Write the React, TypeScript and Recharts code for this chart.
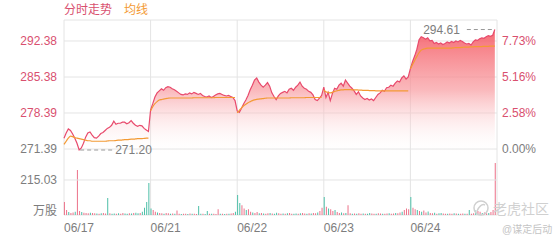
import { Area, Bar, CartesianGrid, Cell, ComposedChart, Line, ReferenceDot, ReferenceLine, XAxis, YAxis } from "recharts"

const days = ["06/17", "06/21", "06/22", "06/23", "06/24"]
const prevClose = 271.39
const priceTicks = [271.39, 278.39, 285.38, 292.38]
const pctLabels = ["0.00%", "2.58%", "5.16%", "7.73%"]
const volTick = 215.03

const price0617 = [273.5, 274.5, 275.3, 275.0, 274.3, 273.5, 272.5, 271.2, 271.6, 272.5, 273.7, 274.5, 274.7, 274.1, 273.6, 273.5, 273.9, 274.4, 274.6, 275.0, 275.4, 275.6, 276.0, 276.8, 276.2, 276.4, 276.4, 276.6, 276.6, 276.3, 276.5, 276.9, 276.4, 276.0, 275.8, 276.0, 275.9, 275.4, 275.1, 274.8]
const price0621 = [279.0, 280.2, 281.5, 282.3, 282.7, 283.1, 282.8, 283.3, 283.5, 283.4, 283.1, 282.9, 282.6, 282.3, 282.0, 281.9, 282.1, 282.0, 282.3, 282.1, 282.4, 282.2, 282.0, 282.2, 281.8, 281.6, 281.5, 281.7, 281.4, 281.6, 281.9, 282.1, 282.2, 282.0, 281.8, 281.7, 281.8, 281.6, 281.4, 280.8]
const price0622 = [278.8, 278.5, 279.3, 280.2, 280.9, 281.8, 282.9, 283.8, 284.8, 285.2, 284.4, 283.8, 283.4, 283.8, 284.3, 283.6, 282.3, 281.6, 281.0, 281.7, 282.2, 282.4, 282.6, 282.3, 283.0, 283.2, 282.8, 283.4, 283.8, 284.4, 283.6, 283.2, 283.0, 282.6, 282.4, 281.9, 281.0, 280.8, 281.3, 281.8]
const price0623 = [283.4, 281.4, 282.4, 280.8, 282.2, 283.2, 283.0, 283.8, 284.2, 283.6, 284.8, 284.2, 283.6, 283.2, 282.7, 282.0, 282.5, 281.7, 281.3, 281.0, 281.2, 280.9, 281.1, 280.8, 281.4, 282.0, 282.3, 282.8, 282.6, 283.3, 283.4, 283.8, 283.6, 284.2, 284.6, 284.4, 285.2, 285.6, 285.0, 285.4]
const price0624 = [287.0, 288.4, 289.5, 290.8, 292.6, 293.2, 293.0, 292.7, 293.0, 292.4, 292.5, 291.9, 292.1, 291.8, 292.0, 291.7, 291.9, 292.2, 292.0, 292.3, 292.1, 292.4, 292.2, 292.5, 292.3, 292.0, 291.8, 291.9, 291.6, 292.2, 292.6, 292.5, 292.8, 293.0, 292.9, 293.2, 293.4, 293.3, 293.5, 294.61]

const avg0617 = [272.3, 272.9, 273.5, 273.9, 273.8, 273.6, 273.5, 273.4, 273.3, 273.2, 273.1, 273.0, 273.0, 272.9, 272.9, 272.9, 272.9, 272.9, 272.9, 272.9, 272.95, 273.0, 273.0, 273.0, 273.05, 273.1, 273.1, 273.15, 273.2, 273.2, 273.25, 273.3, 273.3, 273.35, 273.4, 273.4, 273.4, 273.45, 273.5, 273.5]
const avg0621 = [278.8, 279.6, 280.2, 280.6, 280.9, 281.0, 281.1, 281.2, 281.25, 281.3, 281.3, 281.3, 281.3, 281.3, 281.3, 281.3, 281.3, 281.3, 281.3, 281.3, 281.35, 281.35, 281.35, 281.35, 281.35, 281.35, 281.35, 281.35, 281.35, 281.35, 281.4, 281.4, 281.4, 281.4, 281.4, 281.4, 281.4, 281.4, 281.4, 281.4]
const avg0622 = [278.4, 278.9, 279.4, 279.8, 280.1, 280.4, 280.6, 280.8, 280.95, 281.05, 281.1, 281.15, 281.2, 281.25, 281.3, 281.3, 281.3, 281.3, 281.3, 281.3, 281.3, 281.3, 281.3, 281.3, 281.3, 281.35, 281.35, 281.35, 281.35, 281.35, 281.35, 281.35, 281.4, 281.4, 281.4, 281.4, 281.4, 281.4, 281.4, 281.4]
const avg0623 = [282.9, 282.5, 282.4, 282.3, 282.4, 282.6, 282.7, 282.8, 282.9, 282.9, 282.95, 282.95, 282.95, 282.9, 282.9, 282.9, 282.85, 282.85, 282.8, 282.8, 282.8, 282.75, 282.75, 282.75, 282.7, 282.7, 282.7, 282.7, 282.7, 282.7, 282.7, 282.7, 282.7, 282.7, 282.7, 282.7, 282.7, 282.7, 282.7, 282.7]
const avg0624 = [287.0, 287.8, 288.6, 289.4, 290.1, 290.6, 290.8, 290.9, 291.0, 291.0, 291.0, 291.0, 291.0, 291.0, 291.0, 291.0, 291.0, 291.0, 291.0, 291.0, 291.05, 291.1, 291.1, 291.1, 291.15, 291.2, 291.2, 291.2, 291.25, 291.25, 291.3, 291.3, 291.3, 291.3, 291.35, 291.35, 291.35, 291.4, 291.4, 291.4]

const vol0617 = [80, 30, 18, 12, 15, 20, 276, 25, 18, 14, 12, 10, 14, 12, 10, 9, 8, 10, 12, 9, 104, 10, 8, 9, 7, 10, 8, 12, 9, 8, 10, 9, 12, 14, 10, 12, 20, 45, 80, 196]
const vol0621 = [40, 30, 20, 15, 12, 10, 8, 12, 10, 8, 9, 7, 28, 8, 6, 7, 8, 6, 9, 7, 8, 6, 55, 8, 7, 6, 25, 8, 7, 8, 6, 36, 7, 8, 6, 7, 8, 9, 12, 20]
const vol0622 = [123, 74, 60, 40, 30, 35, 20, 15, 12, 18, 10, 12, 9, 8, 10, 12, 9, 8, 14, 10, 8, 9, 7, 10, 12, 8, 7, 9, 8, 10, 12, 9, 8, 10, 9, 12, 10, 15, 25, 45]
const vol0623 = [110, 50, 40, 35, 25, 30, 18, 12, 15, 10, 12, 60, 10, 8, 9, 7, 10, 8, 9, 7, 8, 12, 9, 7, 8, 10, 9, 8, 7, 9, 10, 8, 9, 12, 10, 15, 20, 30, 40, 35]
const vol0624 = [110, 45, 35, 30, 25, 20, 28, 15, 22, 12, 10, 14, 8, 10, 12, 9, 8, 7, 9, 8, 10, 9, 7, 8, 9, 7, 8, 30, 7, 10, 28, 25, 20, 12, 15, 10, 12, 18, 30, 320]

// 1 = up bar (red), -1 = down bar (teal)
const dir0617 = [1, 1, -1, 1, 1, -1, 1, 1, -1, 1, 1, 1, -1, 1, 1, -1, 1, -1, 1, 1, -1, 1, -1, -1, 1, -1, 1, 1, -1, -1, 1, -1, 1, -1, -1, 1, -1, -1, -1, -1]
const dir0621 = [-1, 1, 1, -1, 1, 1, -1, 1, 1, -1, 1, -1, 1, 1, -1, 1, 1, -1, 1, -1, 1, 1, -1, -1, 1, -1, -1, 1, -1, 1, 1, 1, -1, 1, -1, 1, -1, 1, 1, -1]
const dir0622 = [-1, -1, 1, 1, -1, 1, 1, -1, 1, 1, -1, 1, -1, 1, 1, -1, 1, -1, -1, 1, 1, -1, 1, -1, 1, 1, -1, -1, 1, -1, 1, 1, -1, 1, -1, 1, 1, -1, 1, 1]
const dir0623 = [-1, 1, -1, 1, 1, -1, 1, 1, -1, 1, -1, 1, 1, -1, 1, -1, 1, 1, -1, 1, -1, -1, 1, 1, -1, 1, 1, -1, 1, 1, -1, 1, 1, -1, 1, 1, -1, 1, 1, 1]
const dir0624 = [-1, 1, 1, -1, 1, -1, 1, 1, -1, 1, 1, -1, 1, -1, -1, 1, 1, -1, 1, 1, -1, 1, -1, 1, 1, -1, 1, -1, 1, 1, -1, 1, 1, -1, 1, 1, -1, 1, 1, 1]

const priceByDay = [price0617, price0621, price0622, price0623, price0624]
const avgByDay = [avg0617, avg0621, avg0622, avg0623, avg0624]
const volByDay = [vol0617, vol0621, vol0622, vol0623, vol0624]
const dirByDay = [dir0617, dir0621, dir0622, dir0623, dir0624]

const RED = "#e84a6c"
const RED_TEXT = "#d9506f"
const ORANGE = "#f39a34"
const GRAY = "#7d7d7d"
const GRID = "#e4e4e4"
const UP = "#ec7189"
const DOWN = "#4dbfa8"

const rows: any[] = []
priceByDay.forEach((prices, d) => {
  prices.forEach((p, i) => {
    const row: any = { x: d + i / prices.length, price: p, vol: volByDay[d][i], dir: dirByDay[d][i] }
    row["a" + d] = avgByDay[d][i]
    rows.push(row)
  })
})

const maxRow = rows.reduce((a, b) => (b.price > a.price ? b : a))
const minRow = rows.reduce((a, b) => (b.price < a.price ? b : a))

const font = '"Liberation Sans", Arial, "Noto Sans CJK SC", sans-serif'

const LeftTick = (props: any) => {
  const v = props.payload.value
  return (
    <text x={props.x} y={props.y} dy={4} textAnchor="end" fontSize={12} fill={v > prevClose + 0.001 ? RED_TEXT : GRAY}>
      {v.toFixed(2)}
    </text>
  )
}

const RightTick = (props: any) => {
  const v = props.payload.value
  const idx = priceTicks.indexOf(v)
  return (
    <text x={props.x} y={props.y} dy={4} textAnchor="start" fontSize={12} fill={v > prevClose + 0.001 ? RED_TEXT : GRAY}>
      {pctLabels[idx]}
    </text>
  )
}

const DayTick = (props: any) => {
  const label = days[props.payload.value]
  if (!label) return null
  return (
    <text x={props.x} y={props.y} dy={11} textAnchor="start" fontSize={12} fill={GRAY}>
      {label}
    </text>
  )
}

const MaxMark = (props: any) => (
  <g>
    <line x1={props.cx - 28} y1={props.cy} x2={props.cx - 1} y2={props.cy} stroke="#999" strokeDasharray="4 3" />
    <text x={props.cx - 35} y={props.cy + 4} textAnchor="end" fontSize={12} fill={GRAY}>
      {maxRow.price.toFixed(2)}
    </text>
  </g>
)

const MinMark = (props: any) => (
  <g>
    <line x1={props.cx + 1} y1={props.cy} x2={props.cx + 33} y2={props.cy} stroke="#999" strokeDasharray="4 3" />
    <text x={props.cx + 36} y={props.cy + 4} textAnchor="start" fontSize={12} fill={GRAY}>
      {minRow.price.toFixed(2)}
    </text>
  </g>
)

export default function App() {
  return (
    <div style={{ position: "absolute", left: 0, top: 0, width: 560, height: 240, fontFamily: font, background: "#fff" }}>
      <div style={{ position: "absolute", left: 64, top: 2, fontSize: 12, lineHeight: "16px", whiteSpace: "nowrap" }}>
        <span style={{ color: RED_TEXT }}>分时走势</span>
        <span style={{ color: ORANGE, marginLeft: 12 }}>均线</span>
      </div>
      <ComposedChart width={560} height={240} data={rows} margin={{ top: 20, right: 0, bottom: 0, left: 0 }}>
        <defs>
          <linearGradient id="priceFill" gradientUnits="userSpaceOnUse" x1="0" y1="25" x2="0" y2="155">
            <stop offset="0" stopColor="#f4525c" stopOpacity={0.9} />
            <stop offset="0.5" stopColor="#f89a9f" stopOpacity={0.7} />
            <stop offset="1" stopColor="#ffffff" stopOpacity={0} />
          </linearGradient>
        </defs>
        <CartesianGrid stroke={GRID} vertical horizontal />
        <XAxis
          type="number"
          dataKey="x"
          domain={[0, 5]}
          ticks={[0, 1, 2, 3, 4, 5]}
          height={25}
          tickLine={false}
          axisLine={false}
          tickSize={0}
          tickMargin={6}
          tick={<DayTick />}
        />
        <YAxis
          type="number"
          domain={[258.57, 296.46]}
          ticks={priceTicks}
          width={64}
          tickLine={false}
          axisLine={false}
          tickSize={0}
          tickMargin={7}
          tick={<LeftTick />}
        />
        <YAxis
          yAxisId="r"
          orientation="right"
          type="number"
          domain={[258.57, 296.46]}
          ticks={priceTicks}
          width={63}
          tickLine={false}
          axisLine={false}
          tickSize={0}
          tickMargin={5}
          tick={<RightTick />}
        />
        <YAxis yAxisId="v" type="number" domain={[0, 1198]} hide />
        <ReferenceLine
          yAxisId="v"
          y={volTick}
          stroke={GRID}
          label={(p: any) => (
            <text x={p.viewBox.x - 7} y={p.viewBox.y + 4} textAnchor="end" fontSize={12} fill={GRAY}>
              {volTick.toFixed(2)}
            </text>
          )}
        />
        <ReferenceLine
          yAxisId="v"
          y={0}
          stroke="none"
          label={(p: any) => (
            <text x={p.viewBox.x - 7} y={p.viewBox.y} textAnchor="end" fontSize={12} fill={GRAY}>
              万股
            </text>
          )}
        />
        <Bar yAxisId="v" dataKey="vol" barSize={1} isAnimationActive={false}>
          {rows.map((r, i) => (
            <Cell key={i} fill={r.dir > 0 ? UP : DOWN} />
          ))}
        </Bar>
        <Area
          type="linear"
          dataKey="price"
          stroke={RED}
          strokeWidth={1.2}
          fill="url(#priceFill)"
          fillOpacity={1}
          dot={false}
          activeDot={false}
          isAnimationActive={false}
        />
        <Line yAxisId="r" dataKey="price" stroke="none" dot={false} activeDot={false} isAnimationActive={false} />
        {days.map((_, d) => (
          <Line
            key={d}
            type="monotone"
            dataKey={"a" + d}
            stroke={ORANGE}
            strokeWidth={1.2}
            dot={false}
            activeDot={false}
            connectNulls={false}
            isAnimationActive={false}
          />
        ))}
        <ReferenceDot x={maxRow.x} y={maxRow.price} r={0} shape={<MaxMark />} />
        <ReferenceDot x={minRow.x} y={minRow.price} r={0} shape={<MinMark />} />
      </ComposedChart>
      <div style={{ position: "absolute", left: 472, top: 198, fontSize: 14, color: "#d0d0d0", whiteSpace: "nowrap", display: "flex", alignItems: "center" }}>
        <svg width={18} height={18} style={{ marginRight: 3 }}>
          <circle cx={9} cy={9} r={7} fill="none" stroke="#d0d0d0" strokeWidth={1.5} />
          <path d="M5 12 Q9 4 13 6" fill="none" stroke="#d0d0d0" strokeWidth={1.5} />
        </svg>
        <span>老虎社区</span>
      </div>
      <div style={{ position: "absolute", left: 502, top: 221, fontSize: 10, color: "#c4c4c4", whiteSpace: "nowrap" }}>@谋定后动</div>
    </div>
  )
}
